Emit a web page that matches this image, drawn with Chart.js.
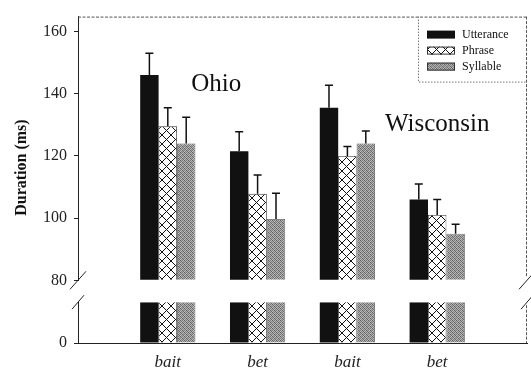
<!DOCTYPE html>
<html>
<head>
<meta charset="utf-8">
<script src="https://cdn.jsdelivr.net/npm/chart.js@4"></script>
<style>
  html, body { margin: 0; padding: 0; background: #fff; }
  canvas { display: block; }
</style>
</head>
<body>
<canvas id="chart" width="531" height="370"></canvas>
<script>
// --- Data ---
const categories = ['bait', 'bet', 'bait', 'bet'];
const seriesNames = ['Utterance', 'Phrase', 'Syllable'];
const utterance = [146, 121.5, 135.5, 106];
const phrase = [129.5, 107.8, 120, 101];
const syllable = [124, 99.7, 124, 95];
const utteranceErr = [7, 6.3, 7.2, 5];
const phraseErr = [6, 6.1, 3, 5];
const syllableErr = [8.4, 8.3, 4, 3];
const yTicks = [80, 100, 120, 140, 160];
const lowTicks = [0];
const regions = ['Ohio', 'Wisconsin'];

const upperMin = 80;
const upperMax = 164.8;
const lowerMax = 13;
const serif = "'Liberation Serif', 'Times New Roman', serif";

// --- Fill patterns ---
function crossPattern() {
  const c = document.createElement('canvas');
  c.width = 9; c.height = 9;
  const g = c.getContext('2d');
  g.fillStyle = '#fff';
  g.fillRect(0, 0, 9, 9);
  g.strokeStyle = '#111';
  g.lineWidth = 1;
  g.beginPath();
  g.moveTo(-1, -1); g.lineTo(10, 10);
  g.moveTo(10, -1); g.lineTo(-1, 10);
  g.stroke();
  return g.createPattern(c, 'repeat');
}

function grayPattern() {
  const shades = [
    [95, 175, 120, 185],
    [170, 110, 190, 130],
    [125, 185, 100, 165],
    [190, 135, 170, 105],
  ];
  const c = document.createElement('canvas');
  c.width = 4; c.height = 4;
  const g = c.getContext('2d');
  shades.forEach((row, y) => row.forEach((s, x) => {
    g.fillStyle = `rgb(${s},${s},${s})`;
    g.fillRect(x, y, 1, 1);
  }));
  return g.createPattern(c, 'repeat');
}

const fills = ['#111', crossPattern(), grayPattern()];
const borders = ['#111', '#333', '#555'];
const seriesValues = [utterance, phrase, syllable];
const seriesErrors = [utteranceErr, phraseErr, syllableErr];
const toPoints = arr => arr.map((v, i) => ({ x: i + 1, y: v }));

const datasets = [];
seriesNames.forEach((name, k) => {
  const common = {
    stack: name,
    backgroundColor: fills[k],
    borderColor: borders[k],
    borderWidth: k === 0 ? 0 : 0.8,
    barPercentage: 1,
    categoryPercentage: 0.615,
  };
  datasets.push({ ...common, label: name, data: toPoints(seriesValues[k]), yAxisID: 'y', base: upperMin, errors: seriesErrors[k], inLegend: true });
  datasets.push({ ...common, label: name, data: toPoints(seriesValues[k]), yAxisID: 'y0' });
});

// --- Plugins ---
// clip each dataset to its own panel
const panelClip = {
  id: 'panelClip',
  beforeDatasetDraw(chart, args) {
    const ys = args.meta.yScale;
    const ctx = chart.ctx;
    ctx.save();
    ctx.beginPath();
    ctx.rect(chart.chartArea.left, ys.top, chart.chartArea.width, ys.bottom - ys.top);
    ctx.clip();
  },
  afterDatasetDraw(chart) {
    chart.ctx.restore();
  }
};

const errorBars = {
  id: 'errorBars',
  afterDatasetsDraw(chart) {
    const ctx = chart.ctx;
    const y = chart.scales.y;
    chart.data.datasets.forEach((ds, i) => {
      if (!ds.errors) return;
      chart.getDatasetMeta(i).data.forEach((bar, j) => {
        const top = y.getPixelForValue(ds.data[j].y + ds.errors[j]);
        ctx.save();
        ctx.strokeStyle = '#111';
        ctx.lineWidth = 1.5;
        ctx.beginPath();
        ctx.moveTo(bar.x, bar.y);
        ctx.lineTo(bar.x, top);
        ctx.moveTo(bar.x - 4, top);
        ctx.lineTo(bar.x + 4, top);
        ctx.stroke();
        ctx.restore();
      });
    });
  }
};

const frame = {
  id: 'frame',
  afterDatasetsDraw(chart) {
    const ctx = chart.ctx;
    const { left, right, top } = chart.chartArea;
    const up = chart.scales.y;
    const low = chart.scales.y0;
    ctx.save();
    ctx.strokeStyle = '#555';
    ctx.lineWidth = 1;
    ctx.setLineDash([3, 1.5]);
    ctx.beginPath();
    ctx.moveTo(left, top + 0.5);
    ctx.lineTo(right, top + 0.5);
    ctx.moveTo(right - 0.5, top);
    ctx.lineTo(right - 0.5, up.bottom - 4);
    ctx.moveTo(right - 0.5, low.top + 3);
    ctx.lineTo(right - 0.5, low.bottom);
    ctx.stroke();
    ctx.setLineDash([]);
    ctx.strokeStyle = '#222';
    // break marks
    [left, right].forEach(x => {
      ctx.beginPath();
      ctx.moveTo(x - 8, up.bottom + 9);
      ctx.lineTo(x + 8, up.bottom - 9);
      ctx.moveTo(x - 6, low.top + 7);
      ctx.lineTo(x + 6, low.top - 7);
      ctx.stroke();
    });
    ctx.restore();
  }
};

const legendBox = {
  id: 'legendBox',
  afterDraw(chart) {
    const ctx = chart.ctx;
    const { right, top } = chart.chartArea;
    const bx = right - 109;
    ctx.save();
    ctx.strokeStyle = '#777';
    ctx.lineWidth = 1;
    ctx.setLineDash([1.5, 1.5]);
    ctx.beginPath();
    ctx.moveTo(bx + 0.5, top);
    ctx.lineTo(bx + 0.5, top + 65.5);
    ctx.lineTo(right, top + 65.5);
    ctx.stroke();
    ctx.setLineDash([]);
    ctx.font = `12px ${serif}`;
    ctx.textBaseline = 'middle';
    seriesNames.forEach((name, k) => {
      const cy = top + 18 + k * 16;
      ctx.fillStyle = fills[k];
      ctx.fillRect(bx + 9, cy - 4, 28, 8);
      if (k > 0) {
        ctx.strokeStyle = '#333';
        ctx.strokeRect(bx + 9.5, cy - 3.5, 27, 7);
      }
      ctx.fillStyle = '#111';
      ctx.fillText(name, bx + 44, cy);
    });
    ctx.restore();
  }
};

const labels = {
  id: 'labels',
  afterDraw(chart) {
    const ctx = chart.ctx;
    const x = chart.scales.x;
    const y = chart.scales.y;
    ctx.save();
    ctx.fillStyle = '#111';
    ctx.font = `25px ${serif}`;
    ctx.textAlign = 'center';
    ctx.textBaseline = 'alphabetic';
    ctx.fillText(regions[0], x.getPixelForValue(1.54), y.getPixelForValue(140.8));
    ctx.fillText(regions[1], x.getPixelForValue(4.0), y.getPixelForValue(128));
    // axis title
    ctx.font = `bold 16px ${serif}`;
    ctx.translate(22, y.top + 151);
    ctx.rotate(-Math.PI / 2);
    ctx.textBaseline = 'middle';
    ctx.fillText('Duration (ms)', 0, 0);
    ctx.restore();
  }
};

// --- Chart ---
const tickFont = { family: serif, size: 16 };
const yAxisBase = {
  type: 'linear',
  position: 'left',
  stack: 'v',
  beginAtZero: false,
  border: { display: true, color: '#222', width: 1 },
  grid: { display: true, drawOnChartArea: false, drawTicks: true, tickLength: 4, color: '#222' },
  ticks: { color: '#222', font: tickFont, padding: 7 },
  afterFit: s => { s.width = 78; },
};

new Chart(document.getElementById('chart'), {
  type: 'bar',
  data: { datasets },
  options: {
    responsive: false,
    animation: false,
    events: [],
    layout: { padding: { top: 15, right: 4, left: 0, bottom: 0 } },
    plugins: {
      legend: { display: false },
      tooltip: { enabled: false },
    },
    scales: {
      x: {
        type: 'linear',
        min: 0,
        max: 5,
        offset: false,
        grid: { display: false, drawTicks: false, offset: false },
        border: { display: true, color: '#222', width: 1 },
        ticks: {
          color: '#222',
          font: { family: serif, size: 17, style: 'italic' },
          padding: 9,
          callback: v => categories[v - 1] ?? '',
        },
        afterBuildTicks: s => { s.ticks = categories.map((c, i) => ({ value: i + 1 })); },
        afterFit: s => { s.height = 27; },
      },
      y: {
        ...yAxisBase,
        min: upperMin,
        max: upperMax,
        weight: 3,
        stackWeight: 265,
        afterBuildTicks: s => { s.ticks = yTicks.map(v => ({ value: v })); },
      },
      yGap: {
        type: 'linear',
        position: 'left',
        stack: 'v',
        display: false,
        weight: 2,
        stackWeight: 22,
        afterFit: s => { s.width = 78; },
      },
      y0: {
        ...yAxisBase,
        min: 0,
        max: lowerMax,
        weight: 1,
        stackWeight: 41,
        afterBuildTicks: s => { s.ticks = lowTicks.map(v => ({ value: v })); },
      },
    },
  },
  plugins: [panelClip, errorBars, frame, legendBox, labels],
});
</script>
</body>
</html>
